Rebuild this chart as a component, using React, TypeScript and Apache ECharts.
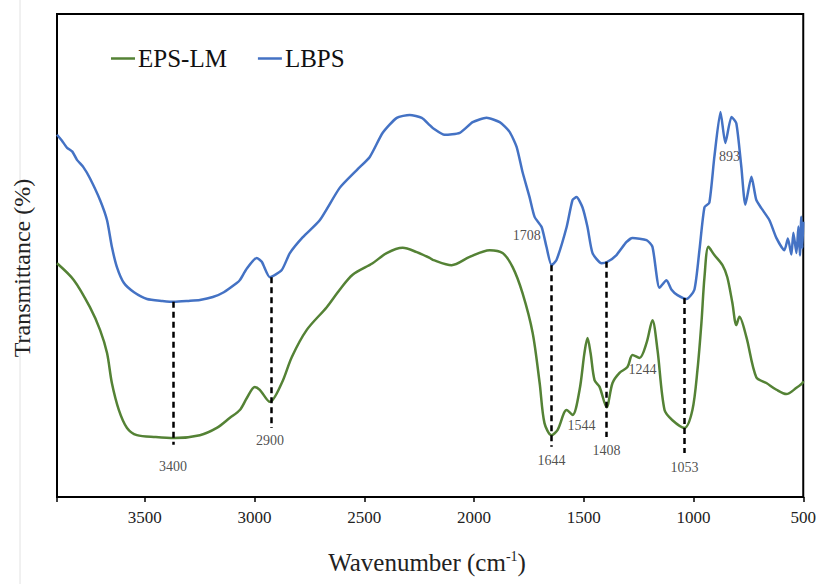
import React, { useEffect, useRef } from "react";
import * as echarts from "echarts";

// LBPS (blue) – wavenumber (cm-1) and transmittance (arbitrary %)
const lbpsWave = [3900, 3878, 3854, 3830, 3809, 3780, 3750, 3704, 3672, 3650, 3627, 3595, 3549, 3490, 3420, 3367, 3300, 3249, 3190, 3140, 3081, 3067, 3035, 2990, 2967, 2930, 2876, 2839, 2780, 2703, 2612, 2534, 2475, 2416, 2352, 2293, 2238, 2202, 2188, 2134, 2065, 2006, 1943, 1883, 1838, 1806, 1779, 1747, 1724, 1692, 1670, 1647, 1624, 1578, 1551, 1533, 1506, 1483, 1460, 1419, 1392, 1351, 1305, 1278, 1214, 1187, 1155, 1123, 1100, 1073, 1032, 996, 973, 950, 928, 905, 877, 855, 827, 805, 782, 764, 736, 714, 691, 654, 622, 586, 570, 554, 545, 531, 522, 515, 509, 504, 500];
const lbpsT = [75.0, 73.8, 72.3, 71.5, 69.8, 68.3, 66.0, 61.5, 57.3, 51.8, 47.6, 44.3, 42.4, 41.0, 40.6, 40.4, 40.6, 40.8, 41.4, 42.4, 44.3, 44.9, 47.3, 49.5, 48.7, 45.5, 47.0, 50.5, 53.8, 57.3, 64.0, 67.7, 70.4, 75.4, 78.5, 79.1, 78.5, 77.0, 76.4, 75.0, 75.4, 77.6, 78.5, 77.6, 75.6, 72.5, 67.3, 62.1, 58.0, 55.9, 51.8, 48.0, 49.1, 55.9, 61.5, 62.1, 60.0, 55.9, 50.5, 48.4, 48.7, 50.1, 52.8, 53.6, 53.2, 51.8, 43.3, 44.9, 42.9, 41.8, 41.0, 42.9, 51.1, 60.0, 60.9, 70.4, 79.7, 73.3, 78.7, 77.4, 68.3, 60.5, 66.3, 61.5, 59.8, 57.3, 53.6, 51.1, 53.5, 50.2, 54.7, 50.5, 56.0, 50.0, 58.0, 51.5, 57.0];

// EPS-LM (green)
const epsWave = [3900, 3823, 3750, 3704, 3672, 3650, 3618, 3581, 3536, 3450, 3367, 3249, 3172, 3112, 3067, 3035, 2999, 2976, 2930, 2876, 2830, 2762, 2671, 2612, 2553, 2462, 2398, 2325, 2261, 2202, 2188, 2102, 2020, 1929, 1870, 1824, 1779, 1733, 1701, 1679, 1647, 1619, 1578, 1551, 1519, 1497, 1483, 1469, 1451, 1428, 1396, 1369, 1337, 1301, 1278, 1246, 1214, 1187, 1164, 1132, 1096, 1041, 1005, 982, 964, 950, 932, 905, 868, 846, 823, 805, 791, 759, 714, 668, 622, 577, 531, 504, 500];
const epsT = [48.4, 44.9, 39.3, 34.6, 29.8, 23.6, 18.0, 14.3, 12.8, 12.4, 12.2, 12.8, 14.3, 16.4, 18.0, 20.5, 22.8, 22.2, 19.7, 23.6, 29.0, 34.6, 39.3, 42.9, 46.0, 48.4, 50.5, 51.6, 50.7, 49.5, 49.1, 48.0, 49.7, 51.1, 50.5, 47.6, 42.2, 34.0, 23.6, 15.3, 12.8, 13.9, 18.0, 17.0, 22.2, 29.8, 32.9, 29.8, 24.2, 22.8, 18.6, 23.6, 25.7, 26.9, 29.4, 28.8, 31.9, 36.6, 30.4, 18.0, 15.9, 14.3, 18.0, 26.3, 36.0, 45.5, 51.8, 50.1, 48.0, 45.5, 40.2, 35.6, 37.3, 33.1, 24.8, 23.6, 22.2, 21.3, 22.6, 23.6, 24.0];

// x-axis ticks
const xMin = 500;
const xMax = 3900;
const xStep = 500;

// dashed peak markers: wavenumber, top T, bottom T
const markWave = [3372, 2926, 1647, 1396, 1041];
const markTop = [40.4, 45.5, 48.0, 48.7, 41.2];
const markBottom = [10.8, 14.3, 10.4, 12.4, 9.1];

// peak labels
const peakText = ["3400", "2900", "1644", "1408", "1053", "1708", "1544", "1244", "893"];
const peakWave = [3372, 2930, 1647, 1396, 1041, 1760, 1510, 1232, 836];
const peakT = [6.4, 11.8, 7.5, 9.7, 6.2, 54.2, 14.9, 26.5, 70.6];

const FONT = "Liberation Serif";

export default function App() {
  const ref = useRef<HTMLDivElement>(null);
  useEffect(() => {
    if (!ref.current) return;
    const chart = echarts.init(ref.current, null, { renderer: "svg" });
    const lbps = lbpsWave.map((w, i) => [w, lbpsT[i]]);
    const eps = epsWave.map((w, i) => [w, epsT[i]]);
    const marks = markWave.map((w, i) => [
      { coord: [w, markTop[i]] },
      { coord: [w, markBottom[i]] },
    ]);
    const peaks = peakWave.map((w, i) => [w, peakT[i], peakText[i]]);
    chart.setOption({
      animation: false,
      backgroundColor: "#fff",
      textStyle: { fontFamily: FONT },
      grid: {
        left: 57,
        right: 15,
        top: 14,
        bottom: 87,
        show: true,
        borderColor: "#000",
        borderWidth: 2,
        backgroundColor: "transparent",
      },
      legend: {
        data: ["EPS-LM", "LBPS"],
        left: 106,
        top: 41,
        icon: "rect",
        itemWidth: 24,
        itemHeight: 2.5,
        itemGap: 31,
        textStyle: { fontFamily: FONT, fontSize: 25, color: "#111", padding: [0, 0, 0, -2] },
      },
      xAxis: {
        type: "value",
        min: xMin,
        max: xMax,
        interval: xStep,
        inverse: true,
        axisLine: { show: true, lineStyle: { color: "#000", width: 2 } },
        axisTick: { show: true, length: 5, lineStyle: { color: "#000", width: 1.5 } },
        axisLabel: {
          fontFamily: FONT,
          fontSize: 17,
          color: "#222",
          margin: 12,
          formatter: (v: number) => (v % xStep === 0 ? String(v) : ""),
        },
        splitLine: { show: false },
      },
      yAxis: {
        type: "value",
        min: 0,
        max: 100,
        axisLine: { show: true, lineStyle: { color: "#000", width: 2 } },
        axisTick: { show: false },
        axisLabel: { show: false },
        splitLine: { show: false },
      },
      series: [
        {
          name: "EPS-LM",
          type: "line",
          data: eps,
          showSymbol: false,
          smooth: 0.3,
          lineStyle: { color: "#548235", width: 2.5 },
          itemStyle: { color: "#548235" },
          markLine: {
            silent: true,
            symbol: "none",
            label: { show: false },
            lineStyle: { color: "#000", width: 2.5, type: [6, 4] },
            data: marks,
          },
          z: 2,
        },
        {
          name: "LBPS",
          type: "line",
          data: lbps,
          showSymbol: false,
          smooth: 0.2,
          lineStyle: { color: "#4472C4", width: 2.5 },
          itemStyle: { color: "#4472C4" },
          z: 2,
        },
        {
          name: "peaks",
          type: "scatter",
          data: peaks,
          symbolSize: 0,
          silent: true,
          label: {
            show: true,
            position: "inside",
            formatter: (p: any) => p.data[2],
            fontFamily: FONT,
            fontSize: 14,
            color: "#222",
          },
          z: 5,
        },
      ],
      graphic: [
        {
          type: "line",
          shape: { x1: 20, y1: 0, x2: 20, y2: 584 },
          style: { stroke: "#e2e2e2", lineWidth: 1 },
          silent: true,
        },
        {
          type: "text",
          x: 22,
          y: 268,
          rotation: Math.PI / 2,
          style: {
            text: "Transmittance (%)",
            fontFamily: FONT,
            fontSize: 24,
            fill: "#222",
            align: "center",
            verticalAlign: "middle",
          },
        },
        {
          type: "text",
          x: 427,
          y: 562,
          style: {
            text: "Wavenumber (cm{sup|-1})",
            fontFamily: FONT,
            fontSize: 25,
            fill: "#222",
            align: "center",
            verticalAlign: "middle",
            rich: {
              sup: { fontFamily: FONT, fontSize: 14, fill: "#222", verticalAlign: "top", padding: [0, 0, 10, 0] },
            },
          },
        },
      ],
    });
    return () => chart.dispose();
  }, []);
  return (
    <div
      ref={ref}
      style={{ position: "fixed", left: 0, top: 0, width: 819, height: 584 }}
    />
  );
}
